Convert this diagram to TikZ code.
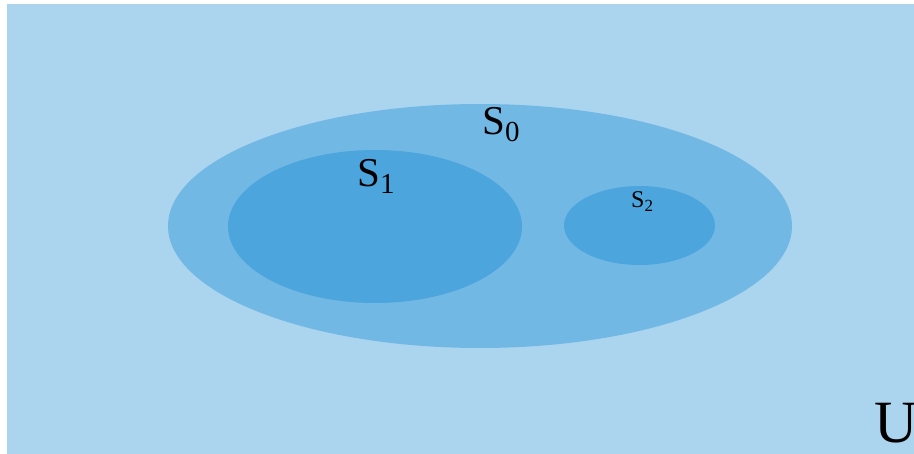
\documentclass[tikz,border=0pt]{standalone}
\usepackage{fontspec}
\setmainfont{Liberation Serif}
\definecolor{bgU}{HTML}{ABD4EE}
\definecolor{setZero}{HTML}{72B8E4}
\definecolor{setIn}{HTML}{4CA5DD}
\tikzset{
  lbl/.style={anchor=base west, inner sep=0pt, text=black},
}
\begin{document}
\begin{tikzpicture}[x=1pt,y=-1pt]
\useasboundingbox (0,0) rectangle (914,454);
\begin{scope}
\clip (7,4) rectangle (914,454);
\fill[bgU] (7,4) rectangle (914,454);
\fill[setZero] (480,226) ellipse [x radius=312, y radius=122];
\fill[setIn] (375,226.5) ellipse [x radius=147, y radius=76.5];
\fill[setIn] (639.5,225.5) ellipse [x radius=75.5, y radius=39.5];
\node[lbl] (s0) at (482,135) {\fontsize{41}{41}\selectfont S\raisebox{-7pt}{\fontsize{29}{29}\selectfont 0}};
\node[lbl] (s1) at (357,187) {\fontsize{41}{41}\selectfont S\raisebox{-7pt}{\fontsize{29}{29}\selectfont 1}};
\node[lbl] (s2) at (631,208) {\fontsize{24}{24}\selectfont S\raisebox{-4pt}{\fontsize{17}{17}\selectfont 2}};
\node[lbl] (u) at (874,443) {\fontsize{60}{60}\selectfont U};
\end{scope}
\end{tikzpicture}
\end{document}
